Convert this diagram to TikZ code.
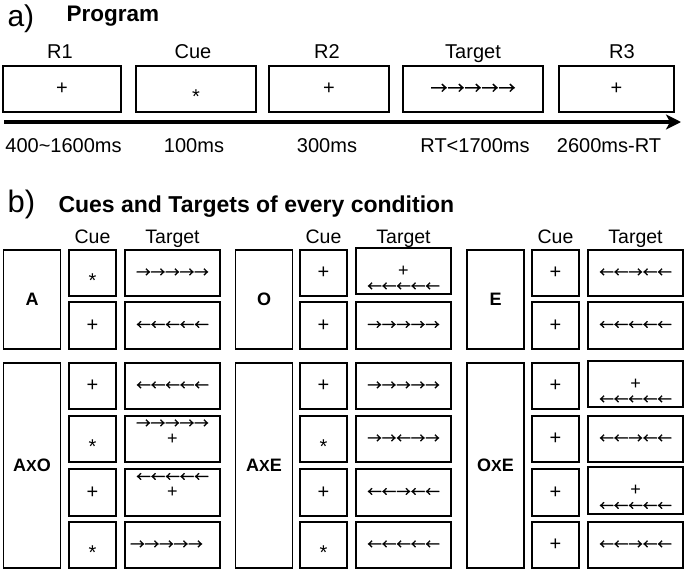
\documentclass[tikz,border=0pt]{standalone}
\usepackage{fontspec}
\setmainfont{Liberation Sans}
\newfontfamily\arrowfont{Noto Sans CJK SC}[FakeBold=1.2]
\usetikzlibrary{arrows.meta}

\begin{document}
\begin{tikzpicture}[x=1pt,y=-1pt,
  frame/.style={draw,line width=1.6pt,inner sep=0pt},
  topbox/.style={frame,minimum height=46.5pt,font=\fontsize{20}{24}\selectfont},
  cuebox/.style={frame,minimum width=47.5pt,minimum height=46.5pt,font=\fontsize{20}{24}\selectfont},
  tgtbox/.style={frame,minimum width=95.5pt,minimum height=46.5pt,font=\arrowfont\fontsize{14.5}{16}\selectfont},
  plusbox/.style={tgtbox,font=\rmfamily\fontsize{18}{20}\selectfont},
  condbox/.style={frame,minimum width=57pt,font=\bfseries\fontsize{18}{20}\selectfont},
  lbl/.style={anchor=base,font=\fontsize{20}{24}\selectfont},
  head/.style={anchor=base,font=\fontsize{19.5}{24}\selectfont},
  star/.style={font=\fontsize{20}{24}\selectfont,yshift=-7.5pt},
  arr/.style={inner sep=0pt,font=\arrowfont\fontsize{14.5}{16}\selectfont}]
  \useasboundingbox (0,0) rectangle (685,571);

  % a) Program
  \node[anchor=base west,font=\fontsize{30}{34}\selectfont] (atag) at (4,26) {a)};
  \node[anchor=base west,font=\bfseries\fontsize{22.5}{26}\selectfont] (atitle) at (63,21) {Program};

  % Screens of one trial
  \node[topbox,minimum width=118.5pt] (r1) at (62,89) {+};
  \node[topbox,minimum width=120.5pt] (cue) at (196,89) {};
  \node[star] (cuestar) at (cue) {*};
  \node[topbox,minimum width=120.5pt] (r2) at (329,89) {+};
  \node[topbox,minimum width=140.5pt,font=\arrowfont\fontsize{17}{20}\selectfont] (target) at (473,89) {→→→→→};
  \node[topbox,minimum width=115.5pt] (r3) at (616.5,89) {+};

  % Screen names
  \node[lbl] (r1name) at (60,58) {R1};
  \node[lbl] (cuename) at (193,58) {Cue};
  \node[lbl] (r2name) at (327,58) {R2};
  \node[lbl] (targetname) at (473,58) {Target};
  \node[lbl] (r3name) at (622,58) {R3};

  % Time line
  \coordinate (tstart) at (4,122);
  \coordinate (tend) at (681,122);
  \draw[line width=4pt,-{Stealth[length=15pt,width=15pt,inset=4pt]}] (tstart) -- (tend);

  % Durations
  \node[lbl] (r1time) at (63.5,152) {400\textasciitilde1600ms};
  \node[lbl] (cuetime) at (194,152) {100ms};
  \node[lbl] (r2time) at (327,152) {300ms};
  \node[lbl] (targettime) at (475,152) {RT<1700ms};
  \node[lbl] (r3time) at (609,152) {2600ms-RT};

  % b) Cues and Targets
  \node[anchor=base west,font=\fontsize{31}{34}\selectfont] (btag) at (4,212) {b)};
  \node[anchor=base west,font=\bfseries\fontsize{23}{26}\selectfont] (btitle) at (55,212) {Cues and Targets of every condition};

  % Column heads
  \node[head] (cuehead1) at (92.5,243) {Cue};
  \node[head] (tgthead1) at (172.5,243) {Target};
  \node[head] (cuehead2) at (323.5,243) {Cue};
  \node[head] (tgthead2) at (403.5,243) {Target};
  \node[head] (cuehead3) at (555.5,243) {Cue};
  \node[head] (tgthead3) at (635.5,243) {Target};

  % Condition A
  \node[condbox,minimum height=99.5pt] (acond) at (32,299.5) {A};
  \node[cuebox] (acue1) at (92.5,273) {};
  \node[star] (acue1s) at (acue1) {*};
  \node[cuebox] (acue2) at (92.5,325.5) {+};
  \node[tgtbox] (atgt1) at (172.5,273) {→→→→→};
  \node[tgtbox] (atgt2) at (172.5,325.5) {←←←←←};

  % Condition O
  \node[condbox,minimum height=99.5pt] (ocond) at (264,299.5) {O};
  \node[cuebox] (ocue1) at (323.5,273) {+};
  \node[cuebox] (ocue2) at (323.5,325.5) {+};
  \node[plusbox] (otgt1) at (403.5,271) {+};
  \node[arr,yshift=-16pt] (otgt1a) at (otgt1) {←←←←←};
  \node[tgtbox] (otgt2) at (403.5,325.5) {→→→→→};

  % Condition E
  \node[condbox,minimum height=99.5pt] (econd) at (495.5,299.5) {E};
  \node[cuebox] (ecue1) at (555.5,273) {+};
  \node[cuebox] (ecue2) at (555.5,325.5) {+};
  \node[tgtbox] (etgt1) at (635.5,273) {←←→←←};
  \node[tgtbox] (etgt2) at (635.5,325.5) {←←←←←};

  % Condition AXO
  \node[condbox,minimum height=205.5pt] (axocond) at (32,465.5) {A{\fontsize{16}{18}\selectfont X}O};
  \node[cuebox] (axocue1) at (92.5,386) {+};
  \node[cuebox] (axocue2) at (92.5,439) {};
  \node[star] (axocue2s) at (axocue2) {*};
  \node[cuebox] (axocue3) at (92.5,492.5) {+};
  \node[cuebox] (axocue4) at (92.5,545) {};
  \node[star] (axocue4s) at (axocue4) {*};
  \node[tgtbox] (axotgt1) at (172.5,386) {←←←←←};
  \node[plusbox] (axotgt2) at (172.5,439) {+};
  \node[arr,yshift=15pt] (axotgt2a) at (axotgt2) {→→→→→};
  \node[plusbox] (axotgt3) at (172.5,492.5) {+};
  \node[arr,yshift=15pt] (axotgt3a) at (axotgt3) {←←←←←};
  \node[tgtbox] (axotgt4) at (172.5,545) {\hspace*{-12pt}→→→→→};

  % Condition AXE
  \node[condbox,minimum height=205.5pt] (axecond) at (264,465.5) {A{\fontsize{16}{18}\selectfont X}E};
  \node[cuebox] (axecue1) at (323.5,386) {+};
  \node[cuebox] (axecue2) at (323.5,439) {};
  \node[star] (axecue2s) at (axecue2) {*};
  \node[cuebox] (axecue3) at (323.5,492.5) {+};
  \node[cuebox] (axecue4) at (323.5,545) {};
  \node[star] (axecue4s) at (axecue4) {*};
  \node[tgtbox] (axetgt1) at (403.5,386) {→→→→→};
  \node[tgtbox] (axetgt2) at (403.5,439) {→→←→→};
  \node[tgtbox] (axetgt3) at (403.5,492.5) {←←→←←};
  \node[tgtbox] (axetgt4) at (403.5,545) {←←←←←};

  % Condition OXE
  \node[condbox,minimum height=205.5pt] (oxecond) at (495.5,465.5) {O{\fontsize{16}{18}\selectfont X}E};
  \node[cuebox] (oxecue1) at (555.5,386) {+};
  \node[cuebox] (oxecue2) at (555.5,439) {+};
  \node[cuebox] (oxecue3) at (555.5,492.5) {+};
  \node[cuebox] (oxecue4) at (555.5,545) {+};
  \node[plusbox] (oxetgt1) at (635.5,384) {+};
  \node[arr,yshift=-16pt] (oxetgt1a) at (oxetgt1) {←←←←←};
  \node[tgtbox] (oxetgt2) at (635.5,439) {←←→←←};
  \node[plusbox] (oxetgt3) at (635.5,490.5) {+};
  \node[arr,yshift=-16pt] (oxetgt3a) at (oxetgt3) {←←←←←};
  \node[tgtbox] (oxetgt4) at (635.5,545) {←←→←←};
\end{tikzpicture}
\end{document}
